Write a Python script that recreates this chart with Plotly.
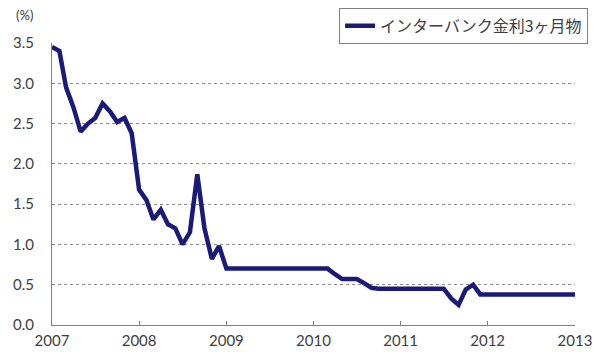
import plotly.graph_objects as go

# Monthly 3-month interbank rate (%), Jan 2007 - Jan 2013
months = [f"{y}-{m:02d}-01" for y in range(2007, 2013) for m in range(1, 13)] + ["2013-01-01"]
rate = [
    # 2007
    3.45, 3.40, 2.95, 2.70, 2.40, 2.50, 2.57, 2.75, 2.65, 2.52, 2.57, 2.38,
    # 2008
    1.68, 1.55, 1.31, 1.43, 1.25, 1.20, 1.00, 1.15, 1.87, 1.20, 0.82, 0.98,
    # 2009
    0.70, 0.70, 0.70, 0.70, 0.70, 0.70, 0.70, 0.70, 0.70, 0.70, 0.70, 0.70,
    # 2010
    0.70, 0.70, 0.70, 0.63, 0.57, 0.57, 0.57, 0.52, 0.46, 0.45, 0.45, 0.45,
    # 2011
    0.45, 0.45, 0.45, 0.45, 0.45, 0.45, 0.45, 0.33, 0.25, 0.44, 0.50, 0.38,
    # 2012
    0.38, 0.38, 0.38, 0.38, 0.38, 0.38, 0.38, 0.38, 0.38, 0.38, 0.38, 0.38,
    # 2013
    0.38,
]
series_name = "インターバンク金利3ヶ月物"
year_ticks = [f"{y}-01-01" for y in range(2007, 2014)]
year_labels = [str(y) for y in range(2007, 2014)]
y_ticks = [0.0, 0.5, 1.0, 1.5, 2.0, 2.5, 3.0, 3.5]

fig = go.Figure()
fig.add_trace(go.Scatter(
    x=months, y=rate, mode="lines", name=series_name,
    line=dict(color="#1a1a78", width=4.5),
))

axis_font = dict(family="Lato, Open Sans, sans-serif", size=15, color="#404040")

fig.update_layout(
    width=593, height=352,
    margin=dict(l=52, r=18, t=43, b=27, autoexpand=False),
    paper_bgcolor="white", plot_bgcolor="white",
    showlegend=True,
    legend=dict(
        x=1.025, y=1.125, xanchor="right", yanchor="top",
        bordercolor="#7f7f7f", borderwidth=1, bgcolor="white",
        font=dict(family="Noto Sans CJK JP", size=16, color="#404040"),
        itemwidth=30, tracegroupgap=0,
    ),
    xaxis=dict(
        type="date", range=["2007-01-01", "2013-01-01"],
        tickmode="array", tickvals=year_ticks, ticktext=year_labels,
        showgrid=False, showline=True, linecolor="#7f7f7f", linewidth=1,
        ticks="inside", ticklen=4, tickcolor="#7f7f7f",
        tickfont=axis_font, zeroline=False, automargin=False,
        ticklabelstandoff=2,
    ),
    yaxis=dict(
        range=[0, 3.5], tickmode="array", tickvals=y_ticks,
        tickformat=".1f", showline=True, linecolor="#7f7f7f", linewidth=1,
        showgrid=True, gridcolor="#8c8c8c", griddash="dot", gridwidth=1,
        ticks="", tickfont=axis_font, zeroline=False, automargin=False,
        ticklabelstandoff=14,
    ),
    annotations=[dict(
        text="(%)", xref="paper", yref="paper", x=-0.052, y=1.1,
        xanchor="center", yanchor="middle", showarrow=False,
        font=dict(family="Lato, Open Sans, sans-serif", size=13, color="#404040"),
    )],
)

fig.write_html("out.html")
